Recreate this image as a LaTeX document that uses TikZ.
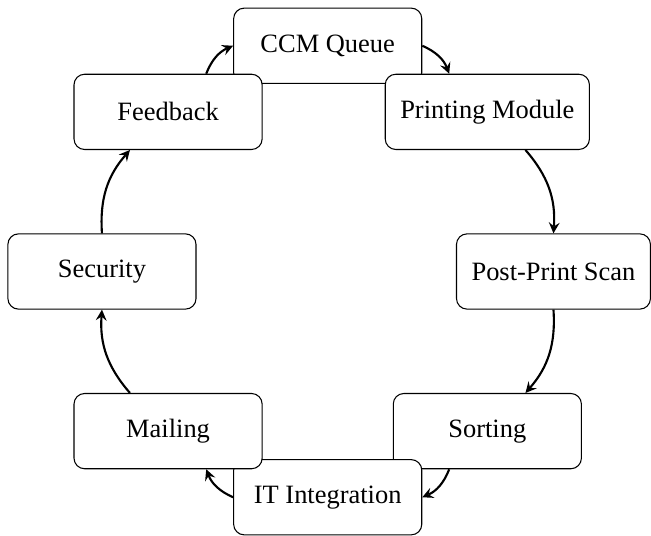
\documentclass[tikz,border=0pt]{standalone}
\usepackage{fontspec}
\setmainfont{Liberation Serif}
\usetikzlibrary{arrows}
\begin{document}
\begin{tikzpicture}[
  stage/.style={draw, rounded corners, fill=white, minimum width=2.5cm,
                minimum height=1cm, inner sep=0.2cm},
  flow/.style={->, >=stealth, thick, bend left=22.5}
]
\useasboundingbox (-4.355,-3.502) rectangle (4.296,3.608);
% the eight stages around a circle, clockwise from the top
\node[stage] (ccm)      at (90:3)   {CCM Queue};
\node[stage] (printing) at (45:3)   {Printing Module};
\node[stage] (scan)     at (0:3)    {Post-Print Scan};
\node[stage] (sorting)  at (-45:3)  {Sorting};
\node[stage] (it)       at (-90:3)  {IT Integration};
\node[stage] (mailing)  at (-135:3) {Mailing};
\node[stage] (security) at (180:3)  {Security};
\node[stage] (feedback) at (135:3)  {Feedback};
% the cycle
\draw[flow] (ccm) to (printing);
\draw[flow] (printing) to (scan);
\draw[flow] (scan) to (sorting);
\draw[flow] (sorting) to (it);
\draw[flow] (it) to (mailing);
\draw[flow] (mailing) to (security);
\draw[flow] (security) to (feedback);
\draw[flow] (feedback) to (ccm);
\end{tikzpicture}
\end{document}
